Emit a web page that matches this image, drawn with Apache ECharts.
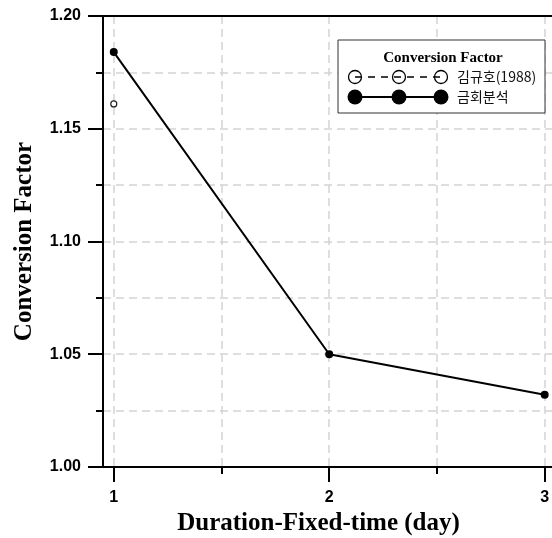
<!DOCTYPE html>
<html>
<head>
<meta charset="utf-8">
<script src="https://cdn.jsdelivr.net/npm/echarts@6/dist/echarts.min.js"></script>
<style>html,body{margin:0;padding:0;background:#fff}#c{width:552px;height:538px}</style>
</head>
<body>
<div id="c"></div>
<script>
// ---- data ----
const days = [1, 2, 3];
const thisStudy = [1.184, 1.050, 1.032];      // 금회분석
const kimDays = [1];
const kim1988 = [1.161];                        // 김규호(1988)
const xMajorTicks = [1, 2, 3];
const xAllTicks = [1, 1.5, 2, 2.5, 3];
const seriesNames = ['김규호(1988)', '금회분석'];
const legendTitle = 'Conversion Factor';
const yTitle = 'Conversion Factor';
const xTitle = 'Duration-Fixed-time (day)';

const chart = echarts.init(document.getElementById('c'));
const gridLine = { show: true, showMaxLine: false, showMinLine: false, lineStyle: { color: '#d4d4d4', width: 1.5, type: [8, 5] } };
const tickFont = { fontFamily: 'Liberation Sans', fontWeight: 'bold', fontSize: 16, color: '#000' };
const X_MIN = 0.95, X_MAX = 3.034;

const LX = 338, LY = 40, LW = 207, LH = 73;
const cxs = [355, 399, 441];
const legendGraphics = [
  { type: 'rect', shape: { x: LX, y: LY, width: LW, height: LH }, style: { fill: '#fff', stroke: '#333', lineWidth: 1 }, z: 100 },
  { type: 'text', x: 443, y: 58, style: { text: legendTitle, font: 'bold 15px "Liberation Serif"', fill: '#000', align: 'center', verticalAlign: 'middle' }, z: 101 },
  { type: 'line', shape: { x1: cxs[0], y1: 77, x2: cxs[2], y2: 77 }, style: { stroke: '#000', lineWidth: 1.5, lineDash: [7, 6] }, z: 101 },
  { type: 'line', shape: { x1: cxs[0], y1: 97, x2: cxs[2], y2: 97 }, style: { stroke: '#000', lineWidth: 2 }, z: 101 },
  { type: 'text', x: 457, y: 77, style: { text: seriesNames[0], font: '14px "Noto Sans CJK KR"', fill: '#111', verticalAlign: 'middle' }, z: 101 },
  { type: 'text', x: 457, y: 97, style: { text: seriesNames[1], font: '14px "Noto Sans CJK KR"', fill: '#111', verticalAlign: 'middle' }, z: 101 }
];
cxs.forEach(cx => {
  legendGraphics.push({ type: 'circle', shape: { cx: cx, cy: 77, r: 6.5 }, style: { fill: 'none', stroke: '#000', lineWidth: 1.3 }, z: 102 });
  legendGraphics.push({ type: 'circle', shape: { cx: cx, cy: 97, r: 7.5 }, style: { fill: '#000' }, z: 102 });
});

chart.setOption({
  animation: false,
  grid: { left: 103, right: 0, top: 16, bottom: 71, show: false, outerBoundsMode: 'none', containLabel: false },
  xAxis: [
    {
      type: 'value', min: X_MIN, max: X_MAX, position: 'bottom',
      name: xTitle, nameLocation: 'middle', nameGap: 42,
      nameTextStyle: { fontFamily: 'Liberation Serif', fontWeight: 'bold', fontSize: 25, color: '#000', padding: [0, 18, 0, 0] },
      axisLine: { show: true, lineStyle: { color: '#000', width: 2 } },
      axisTick: { show: true, inside: false, length: 7, customValues: xAllTicks, lineStyle: { color: '#000', width: 2 } },
      axisLabel: Object.assign({ show: true, margin: 23, customValues: xMajorTicks, formatter: v => String(v) }, tickFont),
      splitLine: { show: true, lineStyle: { color: '#d4d4d4', width: 1.5, type: [8, 5] } }
    },
    {
      type: 'value', min: X_MIN, max: X_MAX, position: 'bottom', offset: 0,
      axisLine: { show: false },
      axisTick: { show: true, length: 15, customValues: xMajorTicks, lineStyle: { color: '#000', width: 2 } },
      axisLabel: { show: false },
      splitLine: { show: false }
    },
    {
      type: 'value', min: X_MIN, max: X_MAX, position: 'top', offset: 0,
      axisLine: { show: true, lineStyle: { color: '#000', width: 2 } },
      axisTick: { show: false },
      axisLabel: { show: false },
      splitLine: { show: false }
    }
  ],
  yAxis: {
    type: 'value', min: 1.0, max: 1.2, interval: 0.05,
    name: yTitle, nameLocation: 'middle', nameGap: 66, nameRotate: 90,
    nameTextStyle: { fontFamily: 'Liberation Serif', fontWeight: 'bold', fontSize: 25, color: '#000' },
    axisLine: { show: true, lineStyle: { color: '#000', width: 2 } },
    axisTick: { show: true, length: 15, lineStyle: { color: '#000', width: 2 } },
    minorTick: { show: true, splitNumber: 2, length: 7, lineStyle: { color: '#000', width: 2 } },
    axisLabel: Object.assign({ margin: 22, formatter: v => v.toFixed(2) }, tickFont),
    splitLine: gridLine,
    minorSplitLine: { show: true, lineStyle: { color: '#d4d4d4', width: 1.5, type: [8, 5] } }
  },
  graphic: legendGraphics,
  series: [
    {
      name: seriesNames[0], type: 'line', xAxisIndex: 0,
      data: kimDays.map((d, i) => [d, kim1988[i]]),
      symbol: 'circle', symbolSize: 6,
      itemStyle: { color: '#fff', borderColor: '#222', borderWidth: 1.2 },
      lineStyle: { color: '#000', width: 1.5, type: 'dashed' },
      z: 5
    },
    {
      name: seriesNames[1], type: 'line', xAxisIndex: 0,
      data: days.map((d, i) => [d, thisStudy[i]]),
      symbol: 'circle', symbolSize: 8,
      itemStyle: { color: '#000' },
      lineStyle: { color: '#000', width: 2 },
      z: 5
    }
  ]
});
</script>
</body>
</html>
